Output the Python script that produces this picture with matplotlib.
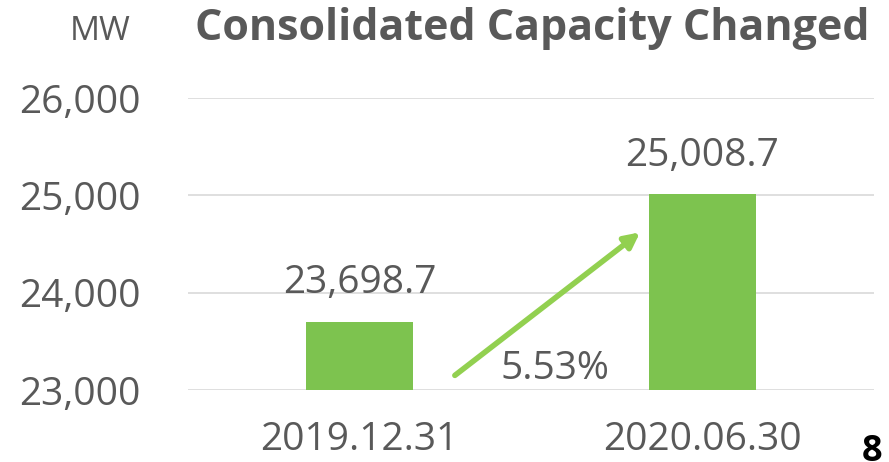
import matplotlib.pyplot as plt

categories = ['2019.12.31', '2020.06.30']
capacity = [23698.7, 25008.7]
value_labels = ['23,698.7', '25,008.7']
yticks = [23000, 24000, 25000, 26000]
ytick_labels = ['23,000', '24,000', '25,000', '26,000']
growth_label = '5.53%'

plt.rcParams['font.family'] = ['Open Sans', 'DejaVu Sans']
grey = '#595959'
green = '#7DC34F'

fig = plt.figure(figsize=(8.89, 4.62), dpi=100)
ax = fig.add_axes([188 / 889, 1 - 390 / 462, 686 / 889, (390 - 98) / 462])

x = list(range(len(categories)))
ax.bar(x, [c - 23000 for c in capacity], bottom=23000, width=0.31, color=green, zorder=3)
ax.set_xlim(-0.5, 1.5)
ax.set_ylim(23000, 26000)

ax.set_yticks(yticks)
ax.set_yticklabels(ytick_labels)
ax.set_xticks(x)
ax.set_xticklabels(categories)
ax.tick_params(axis='both', length=0, labelsize=28, colors=grey)
ax.tick_params(axis='y', pad=34)
ax.tick_params(axis='x', pad=22)
ax.grid(axis='y', color='#D9D9D9', linewidth=1.2, zorder=0)
for s in ax.spines.values():
    s.set_visible(False)

for xi, v, lab in zip(x, capacity, value_labels):
    ax.text(xi, v + 400, lab, ha='center', va='center', fontsize=28, color=grey)

ax.annotate('', xy=(0.818, 24620), xytext=(0.278, 23150),
            arrowprops=dict(arrowstyle='-|>,head_length=0.9,head_width=0.45',
                            color='#92D050', lw=4, shrinkA=0, shrinkB=0), zorder=4)
ax.text(0.57, 23220, growth_label, ha='center', va='center', fontsize=28, color=grey)

fig.text(100 / 889, 1 - 31 / 462, 'MW', ha='center', va='center', fontsize=24, color=grey)
fig.text(532 / 889, 1 - 29 / 462, 'Consolidated Capacity Changed', ha='center', va='center',
         fontsize=31, fontweight='bold', color=grey)
fig.text(862 / 889, 1 - 452 / 462, '8', ha='left', va='center', fontsize=26,
         fontweight='bold', color='black')

fig.savefig('out.png', dpi=100)
